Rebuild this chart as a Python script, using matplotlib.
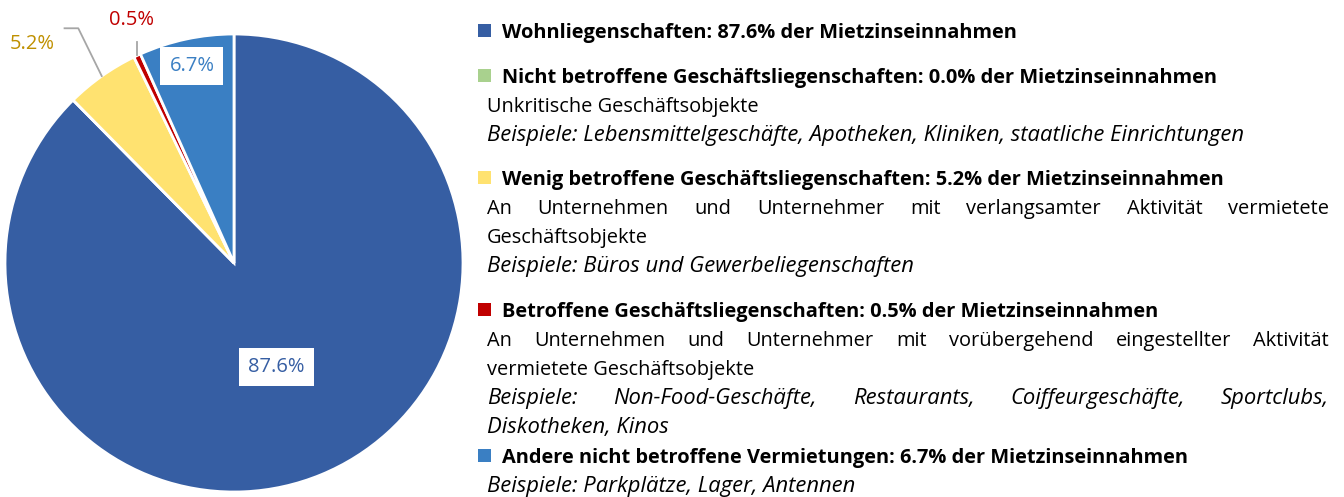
import matplotlib
matplotlib.use('Agg')
import matplotlib.pyplot as plt
from matplotlib.patches import Rectangle
import numpy as np

# Data
categories = ['Wohnliegenschaften',
              'Nicht betroffene Geschäftsliegenschaften',
              'Wenig betroffene Geschäftsliegenschaften',
              'Betroffene Geschäftsliegenschaften',
              'Andere nicht betroffene Vermietungen']
shares = [87.6, 0.0, 5.2, 0.5, 6.7]
descriptions = [
    [],
    ['Unkritische Geschäftsobjekte'],
    ['An Unternehmen und Unternehmer mit verlangsamter Aktivität vermietete',
     'Geschäftsobjekte'],
    ['An Unternehmen und Unternehmer mit vorübergehend eingestellter Aktivität',
     'vermietete Geschäftsobjekte'],
    [],
]
examples = [
    [],
    ['Beispiele: Lebensmittelgeschäfte, Apotheken, Kliniken, staatliche Einrichtungen'],
    ['Beispiele: Büros und Gewerbeliegenschaften'],
    ['Beispiele: Non-Food-Geschäfte, Restaurants, Coiffeurgeschäfte, Sportclubs,',
     'Diskotheken, Kinos'],
    ['Beispiele: Parkplätze, Lager, Antennen'],
]

colors = ['#365EA3', '#A9D18E', '#FFE270', '#C00000', '#3A7FC3']
label_colors = ['#365EA3', '#A9D18E', '#BF9000', '#C00000', '#3A7FC3']

FONT = 'Open Sans'
W, H = 1344, 497
fig = plt.figure(figsize=(W / 100, H / 100), dpi=100, facecolor='white')

# pie axes (center ~ (234, 263) px, radius ~229 px)
cx, cy, rad = 234, 263, 229
pax = fig.add_axes([(cx - rad) / W, (H - cy - rad) / H, 2 * rad / W, 2 * rad / H])
wedges, _ = pax.pie(shares, colors=colors, startangle=90, counterclock=False,
                    radius=1, wedgeprops=dict(edgecolor='white', linewidth=2))
pax.set_xlim(-1, 1)
pax.set_ylim(-1, 1)
pax.set_aspect('equal')
pax.axis('off')

total = sum(shares)
starts = 90 - 360 * np.cumsum([0] + shares[:-1]) / total
mids = starts - 360 * np.array(shares) / total / 2


def pol(ang, r):
    a = np.deg2rad(ang)
    return r * np.cos(a), r * np.sin(a)


lab_fs = 14.5
# inside labels with white box
for i, r in [(0, 0.49), (4, 0.88)]:
    x, y = pol(mids[i], r)
    pax.text(x, y, f'{shares[i]:.1f}%', ha='center', va='center', fontsize=lab_fs,
             family=FONT, color=label_colors[i],
             bbox=dict(boxstyle='square,pad=0.45', facecolor='white', edgecolor='none'))

# outside labels with leader lines
lc = '#A6A6A6'
x0, y0 = pol(mids[2], 1.0)
pax.plot([x0, -0.68, -0.74], [y0, 1.025, 1.025], color=lc, lw=1.3, clip_on=False)
pax.text(-0.88, 0.955, f'{shares[2]:.1f}%', ha='center', va='center', fontsize=lab_fs,
         family=FONT, color=label_colors[2])
x0, y0 = pol(mids[3], 1.0)
pax.plot([x0, x0], [y0, 0.965], color=lc, lw=1.3, clip_on=False)
pax.text(x0 - 0.025, 1.06, f'{shares[3]:.1f}%', ha='center', va='center', fontsize=lab_fs,
         family=FONT, color=label_colors[3])

# legend / text area in pixel coordinates
tax = fig.add_axes([0, 0, 1, 1])
tax.set_xlim(0, W)
tax.set_ylim(H, 0)
tax.axis('off')
renderer = fig.canvas.get_renderer()


def justified(x0, x1, y, text, **kw):
    words = text.split()
    widths = []
    for w in words:
        t = tax.text(0, 0, w, **kw)
        widths.append(t.get_window_extent(renderer=renderer).width)
        t.remove()
    gap = (x1 - x0 - sum(widths)) / (len(words) - 1)
    x = x0
    for w, wd in zip(words, widths):
        tax.text(x, y, w, ha='left', va='baseline', **kw)
        x += wd + gap


fs = 14.4
head_kw = dict(family=FONT, fontsize=fs, fontweight='bold', color='black')
body_kw = dict(family=FONT, fontsize=fs, color='black')
ital_kw = dict(family=FONT, fontsize=15.8, style='italic', color='black')

header_y = [38, 83, 185, 317, 463]
line_step = 29
x_head, x_body, x_right = 502, 487, 1329

for i, cat in enumerate(categories):
    yb = header_y[i]
    tax.add_patch(Rectangle((478, yb - 14), 13, 13, facecolor=colors[i], edgecolor='none'))
    tax.text(x_head, yb, f'{cat}: {shares[i]:.1f}% der Mietzinseinnahmen',
             ha='left', va='baseline', **head_kw)
    y = yb
    lines = [(l, body_kw) for l in descriptions[i]] + [(l, ital_kw) for l in examples[i]]
    for j, (line, kw) in enumerate(lines):
        y += line_step
        last_of_para = (j == len(descriptions[i]) - 1) or (j == len(lines) - 1)
        if not last_of_para and len(lines) > 1 and i in (2, 3):
            justified(x_body, x_right, y, line, **kw)
        else:
            tax.text(x_body, y, line, ha='left', va='baseline', **kw)

fig.savefig('out.png', dpi=100, facecolor='white')
